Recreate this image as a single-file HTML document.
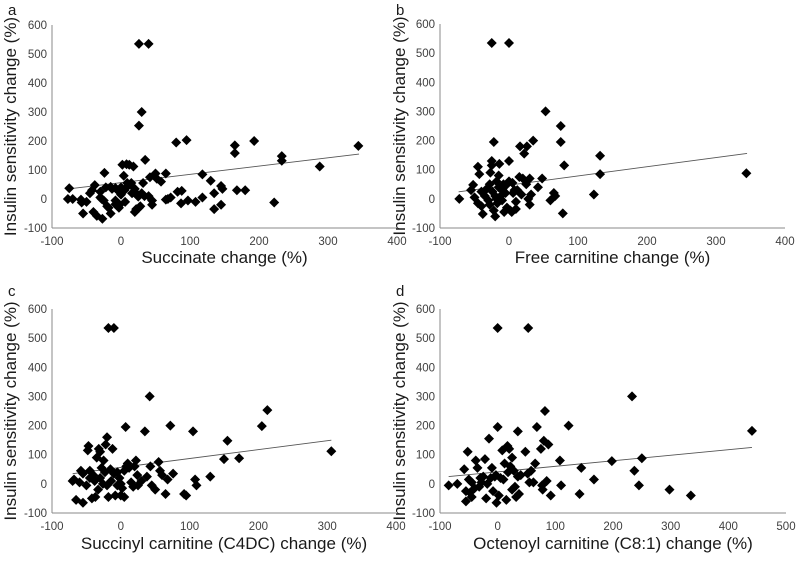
<!DOCTYPE html>
<html><head><meta charset="utf-8">
<style>
html,body{margin:0;padding:0;background:#fff;}
svg{display:block;font-family:"Liberation Sans",Arial,sans-serif;}
.tick{font-size:11.5px;fill:#404040;}
.xtitle{font-size:17px;fill:#1a1a1a;}
.ytitle{font-size:17px;fill:#1a1a1a;}
.letter{font-size:15px;fill:#1a1a1a;}
</style></head>
<body>
<svg id="chart" width="800" height="562" viewBox="0 0 800 562"></svg>
<script>
const aX=[-75,-77,-70,-58,-57,-50,-55,-45,-42,-38,-40,-35,-30,-28,-30,-25,-27,-24,-22,-20,-18,-15,-13,-15,-8,-8,-8,-3,-2,0,2,4,6,8,9,12,15,16,18,20,22,24,25,26,28,30,32,34,35,30,26,26,40,40,42,45,45,50,52,58,65,65,68,72,80,82,87,88,95,97,108,118,118,130,135,135,145,147,145,165,165,168,180,193,222,233,233,288,344,20,10,-5,0,5];
const aY=[37,0,0,-2,-12,-10,-50,20,30,48,-45,-58,25,0,5,-5,-68,90,40,-25,-30,42,35,-50,38,-5,-18,-30,-20,15,118,80,-10,120,55,118,55,20,112,-45,-35,15,8,-30,-25,20,55,10,135,300,253,535,535,10,75,-20,-5,88,70,60,88,-2,0,5,195,25,-15,28,203,-5,-10,85,5,63,20,-35,45,35,-20,185,158,30,30,200,-12,148,132,112,183,35,45,30,40,30];
const bX=[-72,-55,-52,-50,-45,-45,-43,-40,-40,-38,-30,-28,-27,-25,-25,-25,-24,-22,-22,-20,-20,-18,-18,-17,-15,-15,-14,-12,-10,-10,-8,-7,-5,-3,0,0,0,2,4,5,6,8,10,12,15,16,18,20,22,25,26,28,30,30,32,35,42,48,53,60,65,67,75,75,78,80,123,132,132,344,-35,-32,-5,-28,10];
const bY=[0,30,48,5,-15,110,85,25,-25,-52,-5,50,90,130,115,535,25,195,-40,10,-60,0,60,-15,80,40,120,10,30,-5,50,-45,20,-30,130,535,60,-40,-45,55,20,30,-10,30,75,180,15,70,155,50,180,0,70,-20,15,200,40,70,300,-5,20,10,250,195,-50,115,15,148,85,88,10,35,45,-20,-35];
const cX=[-70,-68,-65,-60,-58,-55,-55,-50,-48,-47,-45,-42,-40,-38,-37,-35,-33,-32,-30,-30,-28,-26,-25,-23,-22,-20,-20,-18,-18,-15,-14,-12,-10,-10,-8,-5,-5,-2,0,2,5,5,7,8,10,12,15,18,20,22,24,25,30,35,38,42,43,45,50,55,57,60,65,68,72,76,92,95,105,108,110,130,150,155,172,205,213,306,-45,0];
const cY=[10,15,-55,5,45,-65,35,-5,115,130,20,-50,30,10,-45,90,-20,120,110,20,55,0,80,40,135,160,-5,535,-45,50,10,120,535,35,-40,-5,40,20,-40,-15,-45,45,195,60,70,55,5,-10,60,80,30,-5,10,180,25,300,60,-5,-20,75,45,30,-35,15,200,35,-35,-40,180,15,-5,25,85,148,88,198,253,112,45,0];
const dX=[-85,-70,-58,-55,-55,-52,-50,-48,-45,-45,-40,-38,-35,-32,-30,-28,-25,-22,-20,-18,-15,-12,-10,-8,-5,-3,-2,0,0,2,5,8,10,12,15,17,18,20,22,25,25,28,30,32,35,35,37,40,48,52,53,55,58,62,65,68,75,77,78,80,82,85,88,92,108,110,123,142,145,167,198,233,237,245,250,298,335,441];
const dY=[-5,0,50,-25,-60,110,15,-30,5,-45,-15,80,55,-10,20,5,25,85,-50,0,155,20,55,-25,25,30,-65,195,535,-40,20,115,15,70,-55,130,40,120,60,90,-20,45,-10,-45,180,25,-35,30,110,35,535,5,45,5,70,195,120,-5,-20,148,250,10,135,-40,80,-5,200,-35,55,15,78,300,45,-5,88,-20,-40,182];
const yTicks=[-100,0,100,200,300,400,500,600];
const xTicksABC=[-100,0,100,200,300,400];
const xTicksD=[-100,0,100,200,300,400,500];
const trendA=[[-75,345],[35,155]];
const trendB=[[-73,345],[24,156]];
const trendC=[[-70,306],[35,150]];
const trendD=[[-85,441],[25,125]];

const NS='http://www.w3.org/2000/svg';
const svg=document.getElementById('chart');
function mk(tag,attrs,parent){const e=document.createElementNS(NS,tag);for(const k in attrs)e.setAttribute(k,attrs[k]);(parent||svg).appendChild(e);return e;}

const panels=[
 {id:'a',x0:52,x1:397,y0:228,y1:25,xmin:-100,xmax:400,xs:aX,ys:aY,xt:xTicksABC,tr:trendA,title:'Succinate change (%)',lx:8,ly:15,ytx:16,tb:245,ttb:263},
 {id:'b',x0:440,x1:785,y0:228,y1:24,xmin:-100,xmax:400,xs:bX,ys:bY,xt:xTicksABC,tr:trendB,title:'Free carnitine change (%)',lx:396,ly:15,ytx:405,tb:245,ttb:263},
 {id:'c',x0:52,x1:396,y0:513,y1:309,xmin:-100,xmax:400,xs:cX,ys:cY,xt:xTicksABC,tr:trendC,title:'Succinyl carnitine (C4DC) change (%)',lx:8,ly:296,ytx:16,tb:530,ttb:549},
 {id:'d',x0:440,x1:786,y0:513,y1:309,xmin:-100,xmax:500,xs:dX,ys:dY,xt:xTicksD,tr:trendD,title:'Octenoyl carnitine (C8:1) change (%)',lx:396,ly:296,ytx:405,tb:530,ttb:549}
];

panels.forEach(p=>{
  const g=mk('g',{});
  
  
  const sx=v=>p.x0+(v-p.xmin)/(p.xmax-p.xmin)*(p.x1-p.x0);
  const sy=v=>p.y0+(v+100)/700*(p.y1-p.y0);
  const ax=mk('line',{x1:p.x0,y1:p.y0,x2:p.x1,y2:p.y0,stroke:'#8a8a8a','stroke-width':1},g);
  
  
  const ay=mk('line',{x1:p.x0,y1:p.y0,x2:p.x0,y2:p.y1,stroke:'#8a8a8a','stroke-width':1},g);
  
  
  yTicks.forEach(t=>{
    const e=mk('text',{x:p.x0-5,y:sy(t)+4,'text-anchor':'end',class:'tick'},g);
    e.textContent=t;
    
    
  });
  p.xt.forEach(t=>{
    const e=mk('text',{x:sx(t),y:p.tb,'text-anchor':'middle',class:'tick'},g);
    e.textContent=t;
    
    
  });
  const tl=mk('line',{x1:sx(p.tr[0][0]),y1:sy(p.tr[1][0]),x2:sx(p.tr[0][1]),y2:sy(p.tr[1][1]),stroke:'#555','stroke-width':0.9},g);
  
  
  p.xs.forEach((v,i)=>{
    const cx=sx(v),cy=sy(p.ys[i]),r=5;
    const d=mk('polygon',{points:`${cx},${cy-r} ${cx+r},${cy} ${cx},${cy+r} ${cx-r},${cy}`,fill:'#000'},g);
    
    
  });
  const xt=mk('text',{x:(p.x0+p.x1)/2,y:p.ttb,'text-anchor':'middle',class:'xtitle'},g);
  xt.textContent=p.title;
  
  
  const cy=(p.y0+p.y1)/2;
  const yt=mk('text',{x:p.ytx,y:cy,'text-anchor':'middle',class:'ytitle',transform:`rotate(-90 ${p.ytx} ${cy})`},g);
  yt.textContent='Insulin sensitivity change (%)';
  
  
  const lt=mk('text',{x:p.lx,y:p.ly,class:'letter'},g);
  lt.textContent=p.id;
  
  
});
</script>
</body></html>
